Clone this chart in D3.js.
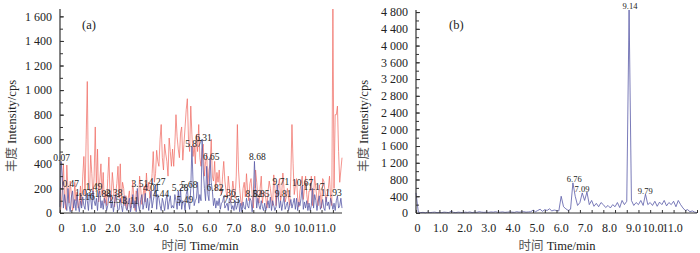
<!DOCTYPE html>
<html><head><meta charset="utf-8">
<script src="https://cdn.jsdelivr.net/npm/d3@7/dist/d3.min.js"></script>
<style>
html,body{margin:0;padding:0;background:#fff;}
svg{display:block;}
text{font-family:"Liberation Serif","Times New Roman",serif;fill:#222;}
.cjk{font-family:"Liberation Serif","Noto Sans CJK SC",serif;}
</style></head>
<body>
<svg id="c" width="700" height="253"></svg>
<script>
// ---------- Data ----------
// Panel (a): sampled every 0.05 min from 0 to 12.4 min
const stepA = 0.05;
const redA = [
  0,60,180,400,120,30,390,200,80,260,150,20,60,250,100,170,40,90,220,60,
  300,460,150,600,1070,250,180,470,320,120,300,700,200,520,90,260,400,150,330,80,
  180,60,280,455,150,100,330,220,50,160,240,380,120,400,80,250,200,60,140,30,
  120,180,40,90,260,120,20,180,150,60,300,200,70,140,220,90,325,180,250,120,
  150,320,500,250,320,510,420,380,600,720,450,350,560,480,420,300,610,500,380,520,
  380,560,800,620,520,450,650,700,430,560,700,840,930,600,500,870,640,460,550,400,
  640,500,720,450,380,520,560,300,420,480,220,350,400,600,300,260,420,180,330,250,
  350,200,150,300,420,260,180,120,300,200,90,150,260,180,120,300,720,350,200,100,
  60,200,250,130,320,180,100,240,280,150,40,200,350,250,130,80,200,300,80,160,
  170,120,40,180,260,200,120,60,310,200,60,150,220,280,100,160,325,200,90,130,
  200,120,60,300,720,400,150,220,280,120,50,180,240,300,110,200,300,150,70,180,
  180,300,60,150,300,200,120,60,230,150,40,280,260,180,90,150,200,300,120,60,
  1660,200,800,800,870,500,250,350,450
];
const blueA = [
  50,420,300,40,150,80,20,200,60,10,130,180,40,110,20,150,60,10,100,40,
  130,60,30,150,100,20,160,120,30,180,100,60,120,20,150,180,40,100,30,120,
  100,20,60,140,160,40,100,10,80,150,90,20,30,120,60,10,90,140,40,20,
  80,120,10,60,150,40,100,10,200,60,20,110,150,30,80,160,40,120,20,90,
  180,40,100,150,230,30,150,120,60,20,120,80,20,100,150,30,90,140,40,60,
  40,150,100,30,180,60,200,30,100,90,20,150,200,80,30,200,540,250,60,100,
  120,250,80,150,100,600,350,200,100,380,150,100,450,250,180,60,120,40,100,60,
  120,30,80,90,140,40,60,80,20,120,100,30,60,20,100,30,60,120,10,80,
  10,90,40,30,120,60,40,120,100,10,120,420,200,40,120,60,30,100,50,20,
  80,20,60,100,40,130,20,100,60,20,50,230,130,40,100,20,80,130,30,60,
  90,20,60,110,40,80,120,30,120,20,90,60,120,220,30,90,40,100,20,80,
  20,60,200,40,150,100,20,90,140,30,60,110,40,20,130,60,90,30,120,80,
  30,80,20,100,140,40,60,120,40
];
const peakTimesA = ["0.07","0.47","1.03","1.16","1.49","1.88","2.38","2.51","3.11","3.51","4.01","4.27","4.44","5.28","5.49","5.68","5.87","6.31","6.65","6.82","7.36","7.55","8.52","8.68","8.85","9.71","9.81","10.67","11.17","11.93"];
const peakLevelsA = [423,211,138,106,187,130,138,81,73,211,179,228,130,179,81,203,537,585,431,179,138,81,130,431,130,228,130,220,187,138];

// Panel (b): sampled every 0.1 min from 0 to 12.0 min
const stepB = 0.1;
const blueB = [
  480,20,10,15,5,20,10,15,20,10,
  15,10,20,15,10,40,15,10,20,15,
  10,20,15,25,10,20,15,30,20,15,
  20,15,25,20,30,15,20,25,15,20,
  25,20,15,30,20,25,30,20,25,30,
  70,30,60,90,40,80,60,100,50,70,
  60,50,400,150,100,60,90,720,400,180,
  250,480,300,500,200,300,160,230,150,250,
  200,130,180,120,200,150,250,130,300,200,
  280,4850,300,180,250,200,300,180,450,200,
  250,180,280,160,260,200,300,170,250,200,
  280,150,300,200,120,60,80,30,50,20,
  10
];
const peakTimesB = ["6.76","7.09","9.14","9.79"];
const peakLevelsB = [740,500,4870,453];

const xTicks = [0,1,2,3,4,5,6,7,8,9,10,11];
const yTicksA = [0,200,400,600,800,1000,1200,1400,1600];
const yTicksB = [0,400,800,1200,1600,2000,2400,2800,3200,3600,4000,4400,4800];

// ---------- Drawing ----------
const svg = d3.select("#c");
const fmtNum = v => v >= 1000 ? d3.format(",")(v).replace(",", " ") : String(v);
const fmtX = v => v === 0 ? "0" : d3.format(".1f")(v);
const RED = "#ef6a62", BLUE = "#5a5ca8";

function panel(cfg) {
  const g = svg.append("g");
  const x = d3.scaleLinear().domain(cfg.xDomain).range(cfg.xRange);
  // tick-label positions as printed in the original figure
  const xl = d3.scaleLinear().domain([0, 1, 9, 11]).range(cfg.labelRange);
  const y = d3.scaleLinear().domain(cfg.yDomain).range([213, cfg.yTop]);

  cfg.series.forEach(s => {
    const pts = s.values.map((v, i) => [i * s.step, v]);
    g.append("path").datum(pts)
      .attr("fill", "none").attr("stroke", s.color)
      .attr("stroke-width", 0.9).attr("stroke-opacity", s.opacity)
      .attr("stroke-linejoin", "round")
      .attr("d", d3.line().x(d => x(d[0])).y(d => y(d[1])));
  });

  // Y axis
  const yMinor = d3.range(0, cfg.yDomain[1], cfg.yStep / 2);
  const ya = g.append("g").attr("transform", `translate(${cfg.xRange[0]},0)`)
    .call(d3.axisLeft(y).tickValues(yMinor).tickSize(-3).tickFormat(""));
  ya.select(".domain").remove();
  ya.selectAll("line").attr("stroke", "#333");
  const yb = g.append("g").attr("transform", `translate(${cfg.xRange[0]},0)`)
    .call(d3.axisLeft(y).tickValues(cfg.yTicks).tickSize(-4).tickPadding(8).tickFormat(fmtNum));
  yb.select(".domain").remove();
  yb.selectAll("line").attr("stroke", "#333");
  yb.selectAll("text").style("font-size", "12px").attr("fill", "#222").attr("font-family", "Liberation Serif");
  g.append("line").attr("x1", cfg.xRange[0]).attr("x2", cfg.xRange[0])
    .attr("y1", cfg.yTop).attr("y2", 213).attr("stroke", "#333").attr("stroke-width", 1.2);

  // X axis
  const xMinor = d3.range(0, cfg.xDomain[1] + 0.001, 0.5);
  const xa = g.append("g").attr("transform", "translate(0,213)")
    .call(d3.axisBottom(x).tickValues(xMinor).tickSize(-3).tickFormat(""));
  xa.select(".domain").remove();
  xa.selectAll("line").attr("stroke", "#333");
  const xb = g.append("g").attr("transform", "translate(0,213)")
    .call(d3.axisBottom(xl).tickValues(cfg.xTicks).tickSize(0).tickPadding(10).tickFormat(fmtX));
  xb.select(".domain").remove();
  xb.selectAll("text").style("font-size", "12px").attr("fill", "#222").attr("font-family", "Liberation Serif");
  g.append("line").attr("x1", cfg.xRange[0]).attr("x2", cfg.xRange[1])
    .attr("y1", 213).attr("y2", 213).attr("stroke", "#333").attr("stroke-width", 1.2);

  // Peak labels
  g.selectAll("text.pk").data(cfg.peakTimes).join("text").attr("class", "pk")
    .attr("x", d => x(+d)).attr("y", (d, i) => y(cfg.peakLevels[i]))
    .attr("text-anchor", "middle").style("font-size", cfg.pkSize + "px").attr("fill", "#222")
    .text(d => d);

  // Panel tag
  g.append("text").attr("x", cfg.tagX).attr("y", 29).style("font-size", "12.5px").text(cfg.tag);

  // Axis titles
  const xt = g.append("text").attr("x", cfg.xTitleX).attr("y", 250).attr("text-anchor", "middle")
    .style("font-size", "12.5px");
  xt.append("tspan").attr("class", "cjk").attr("fill", "#555").text("时间 ");
  xt.append("tspan").text("Time/min");
  const yt = g.append("text").attr("transform", `translate(${cfg.yTitleX},126) rotate(-90)`)
    .attr("text-anchor", "middle").style("font-size", "12.5px");
  yt.append("tspan").attr("class", "cjk").attr("fill", "#555").text("丰度 ");
  yt.append("tspan").text("Intensity/cps");
}

panel({
  xDomain: [0, 12.4], xRange: [60, 342], labelRange: [61, 88, 282, 325],
  yDomain: [0, 1660], yTop: 9, yStep: 200,
  yTicks: yTicksA, xTicks: xTicks,
  series: [
    {values: redA, step: stepA, color: RED, opacity: 0.8},
    {values: blueA, step: stepA, color: BLUE, opacity: 0.9}
  ],
  peakTimes: peakTimesA, peakLevels: peakLevelsA, pkSize: 9.5,
  tag: "(a)", tagX: 82, xTitleX: 200, yTitleX: 16
});

panel({
  xDomain: [0, 12], xRange: [416, 697], labelRange: [417, 440, 633, 672],
  yDomain: [0, 4850], yTop: 10, yStep: 400,
  yTicks: yTicksB, xTicks: xTicks,
  series: [
    {values: blueB, step: stepB, color: BLUE, opacity: 0.9}
  ],
  peakTimes: peakTimesB, peakLevels: peakLevelsB, pkSize: 8.5,
  tag: "(b)", tagX: 449, xTitleX: 557, yTitleX: 368
});
</script>
</body></html>
